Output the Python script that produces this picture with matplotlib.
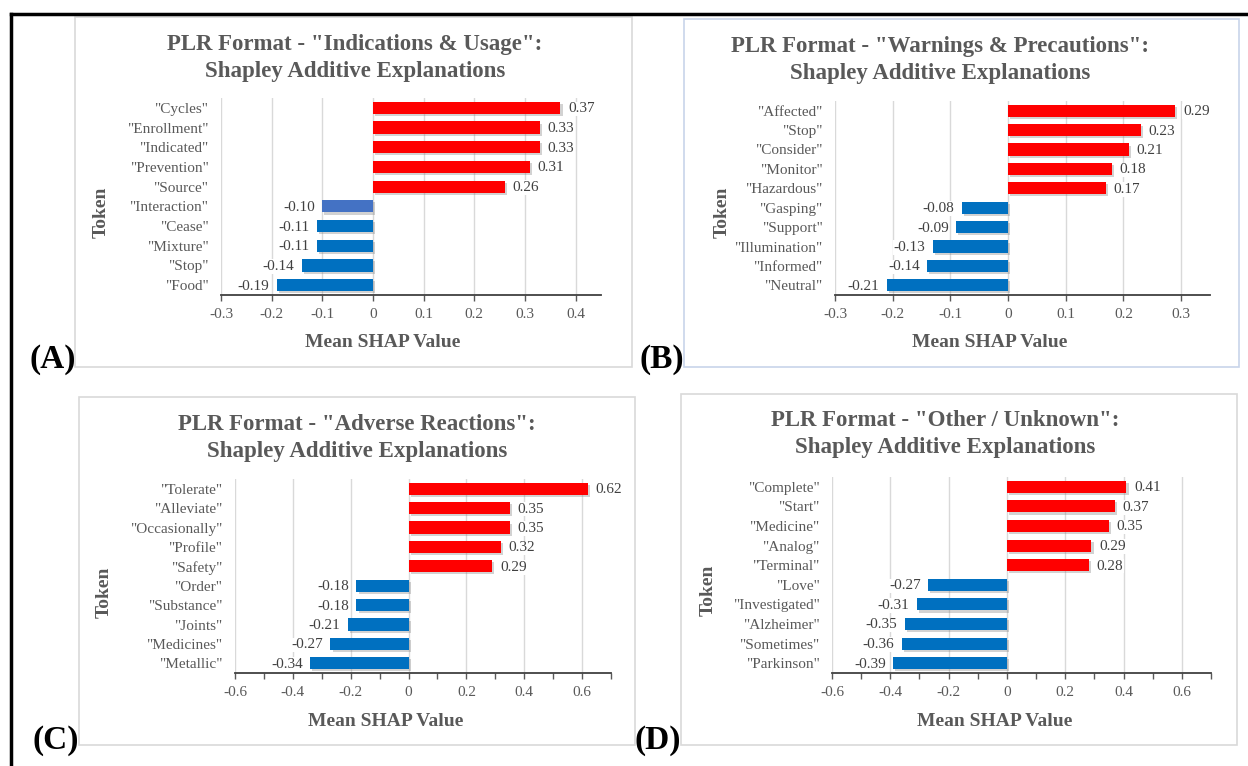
import matplotlib
matplotlib.use("Agg")
import matplotlib.pyplot as plt
import matplotlib.patheffects as pe
from matplotlib.patches import Rectangle
from matplotlib.lines import Line2D
from matplotlib.ticker import MultipleLocator, FuncFormatter

plt.rcParams['font.family'] = ['Liberation Serif', 'DejaVu Serif']
plt.rcParams['axes.unicode_minus'] = False

# ---- data ----
tokens_a = ['"Cycles"', '"Enrollment"', '"Indicated"', '"Prevention"', '"Source"',
            '"Interaction"', '"Cease"', '"Mixture"', '"Stop"', '"Food"']
shap_a = [0.37, 0.33, 0.33, 0.31, 0.26, -0.10, -0.11, -0.11, -0.14, -0.19]

tokens_b = ['"Affected"', '"Stop"', '"Consider"', '"Monitor"', '"Hazardous"',
            '"Gasping"', '"Support"', '"Illumination"', '"Informed"', '"Neutral"']
shap_b = [0.29, 0.23, 0.21, 0.18, 0.17, -0.08, -0.09, -0.13, -0.14, -0.21]

tokens_c = ['"Tolerate"', '"Alleviate"', '"Occasionally"', '"Profile"', '"Safety"',
            '"Order"', '"Substance"', '"Joints"', '"Medicines"', '"Metallic"']
shap_c = [0.62, 0.35, 0.35, 0.32, 0.29, -0.18, -0.18, -0.21, -0.27, -0.34]

tokens_d = ['"Complete"', '"Start"', '"Medicine"', '"Analog"', '"Terminal"',
            '"Love"', '"Investigated"', '"Alzheimer"', '"Sometimes"', '"Parkinson"']
shap_d = [0.41, 0.37, 0.35, 0.29, 0.28, -0.27, -0.31, -0.35, -0.36, -0.39]

titles = ['PLR Format - "Indications & Usage":\nShapley Additive Explanations',
          'PLR Format - "Warnings & Precautions":\nShapley Additive Explanations',
          'PLR Format - "Adverse Reactions":\nShapley Additive Explanations',
          'PLR Format - "Other / Unknown":\nShapley Additive Explanations']
panel_tags = ['(A)', '(B)', '(C)', '(D)']

W, H = 1248, 766
RED = '#FF0000'
BLUE = '#0070C0'
BLUE2 = '#4472C4'
GREY = '#595959'
GRID = '#D9D9D9'

fig = plt.figure(figsize=(W / 100, H / 100), dpi=100)


def fx(x):
    return x / W


def fy(y):
    return 1 - y / H


def add_axes_px(x0, y0, x1, y1):
    return fig.add_axes([fx(x0), fy(y1), (x1 - x0) / W, (y1 - y0) / H])


def fmt(v, pos):
    if abs(v) < 1e-9:
        return '0'
    return ('%.1f' % v)


def draw_panel(ax, tokens, vals, xlim, major, minor, special=None):
    n = len(tokens)
    ypos = list(range(n))[::-1]
    colors = []
    for i, v in enumerate(vals):
        if special is not None and i == special:
            colors.append(BLUE2)
        else:
            colors.append(RED if v > 0 else BLUE)
    bars = ax.barh(ypos, vals, height=0.62, color=colors, zorder=3)
    for b in bars:
        b.set_path_effects([pe.SimplePatchShadow(offset=(1.5, -1.5), shadow_rgbFace='#7f7f7f', alpha=0.35),
                            pe.Normal()])
    ax.set_ylim(-0.5, n - 0.5)
    ax.set_xlim(*xlim)
    ax.set_yticks(ypos)
    ax.set_yticklabels(tokens, fontsize=11, color=GREY)
    ax.tick_params(axis='y', length=0, pad=9)
    ax.xaxis.set_major_locator(MultipleLocator(major))
    ax.xaxis.set_major_formatter(FuncFormatter(fmt))
    if minor:
        ax.xaxis.set_minor_locator(MultipleLocator(minor))
        ax.tick_params(axis='x', which='minor', length=4, width=1, color=GREY, direction='out')
    ax.tick_params(axis='x', which='major', length=4, width=1, color=GREY,
                   labelsize=11, labelcolor=GREY, pad=5)
    ax.grid(axis='x', which='major', color=GRID, linewidth=1, zorder=0)
    ax.set_axisbelow(True)
    for s in ['top', 'right', 'left']:
        ax.spines[s].set_visible(False)
    ax.spines['bottom'].set_color('#404040')
    ax.spines['bottom'].set_linewidth(1.3)
    dx = (xlim[1] - xlim[0]) * 0.02
    for y, v in zip(ypos, vals):
        if v >= 0:
            ax.text(v + dx, y - 0.05, '%.2f' % v, ha='left', va='center', fontsize=11,
                    color='#404040', zorder=5,
                    bbox=dict(facecolor='white', edgecolor='none', pad=0.5))
        else:
            ax.text(v - dx, y - 0.05, '%.2f' % v, ha='right', va='center',
                    fontsize=11, color='#404040', zorder=5,
                    bbox=dict(facecolor='white', edgecolor='none', pad=0.5))


# panel frames (px): x0, y0, x1, y1
frames = [(75, 17, 632, 367), (684, 19, 1239, 367), (79, 397, 635, 745), (681, 394, 1237, 745)]
frame_colors = ['#D9D9D9', '#C8D4EA', '#D9D9D9', '#D9D9D9']
for (x0, y0, x1, y1), c in zip(frames, frame_colors):
    fig.add_artist(Rectangle((fx(x0), fy(y1)), (x1 - x0) / W, (y1 - y0) / H,
                             transform=fig.transFigure, facecolor='white', edgecolor=c,
                             linewidth=1.2, zorder=0))

# outer black border (left and top)
fig.add_artist(Line2D([fx(11), fx(11)], [fy(14), fy(766)], transform=fig.transFigure,
                      color='black', linewidth=2.5))
fig.add_artist(Line2D([fx(11), fx(1248)], [fy(14), fy(14)], transform=fig.transFigure,
                      color='black', linewidth=2.5))

ax_a = add_axes_px(221, 98, 601, 295)
draw_panel(ax_a, tokens_a, shap_a, (-0.3, 0.45), 0.1, None, special=5)
ax_b = add_axes_px(835, 101, 1210, 295)
draw_panel(ax_b, tokens_b, shap_b, (-0.3, 0.35), 0.1, None)
ax_c = add_axes_px(235, 479, 611, 673)
draw_panel(ax_c, tokens_c, shap_c, (-0.6, 0.7), 0.2, 0.1)
ax_d = add_axes_px(832, 477, 1211, 673)
draw_panel(ax_d, tokens_d, shap_d, (-0.6, 0.7), 0.2, 0.1)

# titles
title_pos = [(355, 58), (940, 60), (357, 438), (945, 434)]
for (x, y), t in zip(title_pos, titles):
    fig.text(fx(x), fy(y), t, ha='center', va='center', fontsize=16.5, fontweight='bold',
             color=GREY, linespacing=1.35)

# axis labels
token_pos = [(101, 212), (722, 212), (104, 592), (708, 590)]
for x, y in token_pos:
    fig.text(fx(x), fy(y), 'Token', rotation=90, ha='center', va='center', fontsize=14,
             fontweight='bold', color=GREY)
xlab_pos = [(383, 343), (990, 343), (386, 722), (995, 721)]
for x, y in xlab_pos:
    fig.text(fx(x), fy(y), 'Mean SHAP Value', ha='center', va='center', fontsize=14,
             fontweight='bold', color=GREY)

# panel tags
tag_pos = [(53, 359), (662, 359), (56, 740), (658, 740)]
for (x, y), t in zip(tag_pos, panel_tags):
    fig.text(fx(x), fy(y), t, ha='center', va='center', fontsize=24, fontweight='bold',
             color='black')

fig.savefig('out.png', dpi=100)
